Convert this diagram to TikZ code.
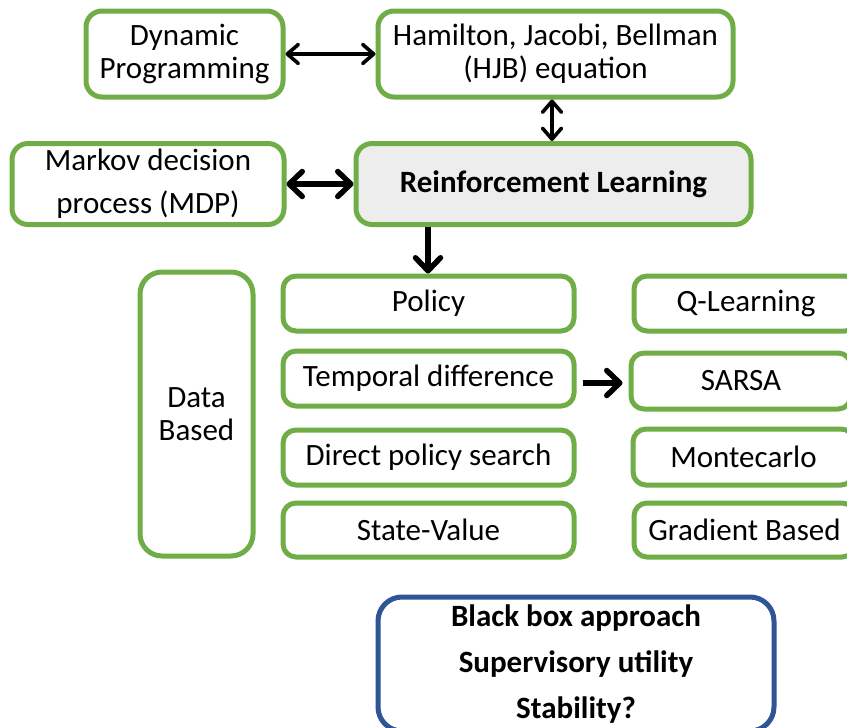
\documentclass[tikz,border=0pt]{standalone}
\usepackage{fontspec}
\setmainfont{Carlito}
\usetikzlibrary{arrows.meta}
\definecolor{grn}{HTML}{70AD47}
\definecolor{blu}{HTML}{2F5597}
\definecolor{lgray}{HTML}{EDEDED}
\begin{document}
\begin{tikzpicture}[x=1pt,y=-1pt,
  box/.style={draw=grn, line width=5pt, rounded corners=13pt, align=center, inner sep=0pt,
    font=\fontsize{31}{33}\selectfont},
  thinarr/.style={line width=3.6pt, {Straight Barb[length=11pt,width=19pt,line cap=round,round]}-{Straight Barb[length=11pt,width=19pt,line cap=round,round]}},
  thickarr/.style={line width=5.5pt, -{Straight Barb[length=13pt,width=25pt,line cap=round,round]}},
  thickdbl/.style={line width=5.5pt, {Straight Barb[length=13pt,width=25pt,line cap=round,round]}-{Straight Barb[length=13pt,width=25pt,line cap=round,round]}}]
\clip (0,0) rectangle (847,728);
\fill[white] (0,0) rectangle (847,728);

\node[box, rounded corners=16pt, minimum width=197pt, minimum height=86pt] (dp) at (184.5,54) {Dynamic\\Programming};
\node[box, rounded corners=16pt, minimum width=355pt, minimum height=86pt] (hjb) at (555.5,54) {Hamilton, Jacobi, Bellman\\(HJB) equation};
\node[box, rounded corners=16pt, minimum width=272pt, minimum height=81pt, font=\fontsize{31}{43}\selectfont] (mdp) at (148,184) {Markov decision\\process (MDP)};
\node[box, rounded corners=16pt, fill=lgray, minimum width=395pt, minimum height=81pt, font=\fontsize{31}{33}\selectfont\bfseries] (rl) at (553.5,184) {Reinforcement Learning};

\node[box, rounded corners=22pt, minimum width=113pt, minimum height=284pt] (data) at (196.5,414) {Data\\Based};

\node[box, minimum width=291pt, minimum height=55pt] (pol) at (428.5,303.5) {Policy};
\node[box, minimum width=291pt, minimum height=55pt] (td) at (428.5,378.5) {Temporal difference};
\node[box, minimum width=291pt, minimum height=55pt] (dps) at (428.5,457.5) {Direct policy search};
\node[box, minimum width=291pt, minimum height=54pt] (sv) at (428.5,530) {State-Value};

\node[box, minimum width=224pt, minimum height=55pt] (ql) at (746,303.5) {Q-Learning};
\node[box, minimum width=220pt, minimum height=56pt] (sarsa) at (741,381) {SARSA};
\node[box, minimum width=221pt, minimum height=56pt] (mc) at (743.5,457) {Montecarlo};
\node[box, minimum width=221pt, minimum height=54pt] (gb) at (744.5,530) {Gradient Based};

\node[box, draw=blu, rounded corners=24pt, minimum width=396pt, minimum height=134pt,
  font=\fontsize{31}{46}\selectfont\bfseries] (bb) at (576,664) {Black box approach\\Supervisory utility\\Stability?};

\coordinate (cx1) at (552,0);
\coordinate (cx2) at (428,0);
\coordinate (cy3) at (0,383);

\draw[thinarr] (dp.east) -- (hjb.west);
\draw[thinarr] (hjb.south -| cx1) -- (rl.north -| cx1);
\draw[thickdbl] (mdp.east) -- (rl.west);
\draw[thickarr] (rl.south -| cx2) -- (pol.north -| cx2);
\draw[thickarr, shorten <=6pt, shorten >=6pt] (td.east |- cy3) -- (sarsa.west |- cy3);
\end{tikzpicture}
\end{document}
